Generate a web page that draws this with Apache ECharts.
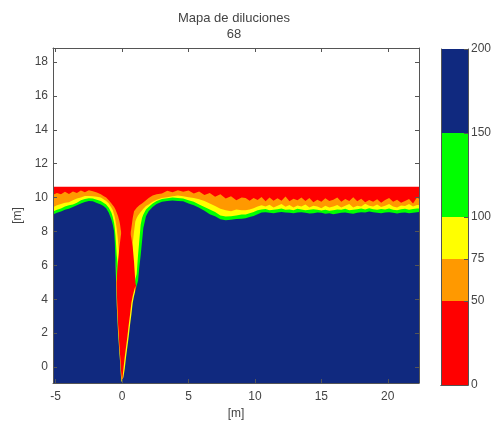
<!DOCTYPE html>
<html>
<head>
<meta charset="utf-8">
<style>html,body{margin:0;padding:0;background:#fff}#c{width:495px;height:421px}</style>
<script src="https://cdn.jsdelivr.net/npm/echarts@6/dist/echarts.min.js"></script>
</head>
<body>
<div id="c"></div>
<script>
var xTicks = [-5, 0, 5, 10, 15, 20];
var yTicks = [0, 2, 4, 6, 8, 10, 12, 14, 16, 18];
var barTicks = [0, 50, 75, 100, 150, 200];
var barSteps = [50, 25, 25, 50, 50];

var redX = [-5.4, 22.8];
var redTop = [10.64, 10.64];

var xs = [-5.4,-4.9,-4.6,-4.3,-4,-3.7,-3.4,-3.1,-2.8,-2.5,-2.2,-1.9,
 -1.6,-1.4,-1.2,-1,-0.9,-0.8,-0.7,-0.6,-0.55,-0.5,-0.45,-0.4,-0.35,-0.3,-0.25,-0.2,-0.15,-0.1,-0.05,0,0.05,
 0.1,0.2,0.3,0.4,0.5,0.6,0.7,0.8,0.9,1,1.1,1.2,1.3,1.4,1.5,1.6,1.8,2,2.3,
 2.6,3,3.4,3.8,4.2,4.6,5,5.4,5.8,6.2,6.6,7,7.4,7.8,8.2,8.6,9,
 9.3,9.6,9.9,10.2,10.5,10.8,11.1,11.4,11.7,12,12.3,12.6,12.9,13.2,13.5,13.8,14.1,14.4,14.7,15,
 15.3,15.6,15.9,16.2,16.5,16.8,17.1,17.4,17.7,18,18.3,18.6,18.9,19.2,19.5,19.8,20.1,20.4,20.7,21,
 21.3,21.6,21.9,22.2,22.8];

var blueTop = [8.93,9.1,9.18,9.28,9.35,9.44,9.55,9.66,9.74,9.8,9.78,9.68,
 9.6,9.5,9.37,9.1,8.9,8.7,8.4,8,7.4,6.3,5,3.6,2.8,2,1.4,0.8,0.3,-0.4,-0.9,-0.94,-0.94,
 -0.6,-0.1,0.6,1.2,1.8,2.5,3.1,3.8,4.2,4.5,4.8,5.1,5.9,6.6,7.4,8.2,8.9,9.2,9.45,
 9.62,9.75,9.8,9.83,9.8,9.78,9.65,9.55,9.4,9.22,9.02,8.9,8.72,8.66,8.7,8.74,8.76,
 8.78,8.85,8.92,9.02,9.12,9.14,9.1,9.08,9.12,9.15,9.12,9.1,9.08,9.12,9.14,9.1,9.06,9.08,9.12,9.1,
 9.05,9.08,9.02,9.06,9.1,9.12,9.08,9.05,9.1,9.14,9.12,9.18,9.14,9.1,9.08,9.12,9.14,9.1,9.06,9.1,
 9.12,9.08,9.1,9.14,9.18];

var greenTop = [9.12,9.28,9.36,9.48,9.55,9.6,9.7,9.84,9.92,9.97,9.95,9.88,
 9.8,9.7,9.6,9.4,9.25,9.1,8.85,8.5,8.2,7.8,7.2,6.6,6.2,5.5,4.5,3,2,1,0,-0.9,-0.9,
 -0.5,0,0.8,1.5,2.2,3,3.6,4.3,4.4,5.2,5.5,6.6,7.5,8.4,8.8,9,9.3,9.45,9.65,
 9.8,9.92,9.97,10,9.98,9.95,9.85,9.75,9.6,9.45,9.3,9.15,8.95,8.88,8.9,8.95,9,
 9,9.08,9.15,9.25,9.3,9.33,9.26,9.28,9.32,9.36,9.28,9.3,9.26,9.34,9.3,9.26,9.28,9.32,9.28,9.24,
 9.28,9.23,9.26,9.3,9.28,9.34,9.26,9.28,9.32,9.36,9.3,9.38,9.32,9.28,9.33,9.3,9.36,9.28,9.26,9.32,
 9.34,9.28,9.33,9.36,9.38];

var yellowTop = [9.35,9.55,9.62,9.7,9.72,9.85,9.95,10,10.1,10.1,10.08,10.05,
 10,9.9,9.8,9.65,9.52,9.4,9.25,9,8.85,8.65,8.4,8.15,7.8,7.4,6.9,6.4,5.5,4,3,1,1,
 1,1.5,2,3,4,5,6.5,7.3,8,8.6,8.8,8.95,9.05,9.15,9.25,9.35,9.5,9.6,9.75,
 9.88,9.98,10.02,10.08,10.12,10.08,10.02,9.98,9.9,9.8,9.65,9.5,9.35,9.25,9.2,9.3,9.25,
 9.25,9.3,9.38,9.48,9.55,9.48,9.58,9.42,9.52,9.62,9.46,9.56,9.42,9.54,9.47,9.6,9.42,9.52,9.47,9.38,
 9.52,9.42,9.47,9.57,9.42,9.52,9.62,9.42,9.52,9.47,9.64,9.52,9.47,9.6,9.44,9.52,9.62,9.47,9.42,9.54,
 9.5,9.62,9.47,9.57,9.52];

var orangeTop = [10.1,10.28,10.2,10.34,10.22,10.36,10.28,10.42,10.32,10.44,10.38,10.3,
 10.2,10.1,10,9.85,9.75,9.65,9.55,9.45,9.4,9.3,9.2,9.1,9,8.9,8.75,8.6,8.4,8.1,7.9,7.8,7.8,
 7.7,7.6,7.5,7.5,7.5,7.7,8.2,8.8,9.2,9.3,9.4,9.5,9.55,9.6,9.65,9.72,9.85,9.98,10.12,
 10.2,10.25,10.4,10.32,10.44,10.34,10.42,10.24,10.36,10.16,10.28,10.05,10.2,9.95,10.08,9.85,10,
 9.98,9.82,9.98,9.86,10.04,9.78,10,9.82,9.96,9.82,10.06,9.78,9.94,9.84,10,9.8,9.98,9.72,9.88,9.76,
 9.96,9.8,9.88,10,9.76,9.92,9.8,10.02,9.78,9.94,9.72,9.86,9.76,9.9,9.7,9.86,9.98,9.76,9.88,9.7,
 9.8,9.92,9.66,10,9.76];

var plumeX = [-0.5,-0.45,-0.4,-0.35,-0.3,-0.25,-0.2,-0.15,-0.1,-0.05,0,0.05,0.1,0.2,0.3,0.4,0.5,0.6,0.7,0.8,0.9,1,1.1];
var coreTop = [4.8,5,5.2,5.8,6.3,6.7,7.1,7.4,7.7,8,8.5,9,9.5,9.5,9.5,9.5,9,8,7.6,7.1,6.2,5,4.6];
var flankTop = [6.3,5.9,4.5,3.4,2.5,1.9,1.2,0.7,0,-0.5,-0.9,-0.94,-0.1,0.6,1.2,1.8,2.5,3.1,3.8,4.2,4.5,4.8,4.8];

function pairs(a, b) {
  return a.map(function (v, i) { return [v, b[i]]; });
}
function area(name, a, b, color) {
  return {
    name: name, type: 'line', xAxisIndex: 0, yAxisIndex: 0,
    data: pairs(a, b), symbol: 'none', silent: true, animation: false,
    lineStyle: { width: 0 }, areaStyle: { color: color, opacity: 1, origin: 'start' }
  };
}

var red = '#ff0000', orange = '#ff9900', yellow = '#ffff00', green = '#00ff00', blue = '#10297f';
var ink = '#444444', frame = '#555555';
var txt = { color: ink, fontSize: 12, fontFamily: 'Liberation Sans' };

function axisBits(ticks, show, margin) {
  return {
    axisLine: { show: true, onZero: false, lineStyle: { color: frame, width: 1 } },
    axisTick: { show: true, inside: true, length: 4, customValues: ticks, lineStyle: { color: frame } },
    axisLabel: Object.assign({ show: show, customValues: ticks, margin: margin }, txt),
    splitLine: { show: false }, z: 5
  };
}

var segColors = [red, orange, yellow, green, blue];
var barSeries = barSteps.map(function (s, i) {
  return { type: 'bar', xAxisIndex: 2, yAxisIndex: 2, stack: 'cb', barWidth: '100%', data: [s],
    itemStyle: { color: segColors[i] }, silent: true, animation: false };
});

var chart = echarts.init(document.getElementById('c'), null, { renderer: 'canvas' });
chart.setOption({
  animation: false,
  backgroundColor: '#ffffff',
  title: {
    text: 'Mapa de diluciones\n68', left: 229, top: 5, textAlign: 'center',
    textStyle: { color: ink, fontSize: 13, fontWeight: 'normal', fontFamily: 'Liberation Sans', lineHeight: 16 }
  },
  grid: [
    { left: 53, top: 48, width: 366, height: 335, outerBoundsMode: 'none' },
    { left: 441, top: 49, width: 27, height: 336, outerBoundsMode: 'none' }
  ],
  xAxis: [
    Object.assign({ type: 'value', min: -5.2, max: 22.35, position: 'bottom', gridIndex: 0,
      name: '[m]', nameLocation: 'middle', nameGap: 24,
      nameTextStyle: txt }, axisBits(xTicks, true, 8)),
    Object.assign({ type: 'value', min: -5.2, max: 22.35, position: 'top', gridIndex: 0 }, axisBits(xTicks, false, 6)),
    { type: 'category', data: ['c'], gridIndex: 1, position: 'bottom', axisLine: { show: true, lineStyle: { color: frame } }, axisTick: { show: false }, axisLabel: { show: false }, z: 5 },
    { type: 'category', data: ['c'], gridIndex: 1, position: 'top', axisLine: { show: true, lineStyle: { color: frame } }, axisTick: { show: false }, axisLabel: { show: false }, z: 5 }
  ],
  yAxis: [
    Object.assign({ type: 'value', min: -0.94, max: 18.83, position: 'left', gridIndex: 0,
      name: '[m]', nameLocation: 'middle', nameGap: 27, nameRotate: 90,
      nameTextStyle: txt }, axisBits(yTicks, true, 5)),
    Object.assign({ type: 'value', min: -0.94, max: 18.83, position: 'right', gridIndex: 0 }, axisBits(yTicks, false, 6)),
    Object.assign({ type: 'value', min: 0, max: 200, position: 'right', gridIndex: 1 }, axisBits(barTicks, true, 3)),
    { type: 'value', min: 0, max: 200, position: 'left', gridIndex: 1, axisLine: { show: true, onZero: false, lineStyle: { color: frame } }, axisTick: { show: false }, axisLabel: { show: false }, splitLine: { show: false }, z: 5 }
  ],
  series: [
    area('red', redX, redTop, red),
    area('orange', xs, orangeTop, orange),
    area('yellow', xs, yellowTop, yellow),
    area('green', xs, greenTop, green),
    area('core', plumeX, coreTop, red),
    area('flank', plumeX, flankTop, yellow),
    area('blue', xs, blueTop, blue)
  ].concat(barSeries)
});
</script>
</body>
</html>
